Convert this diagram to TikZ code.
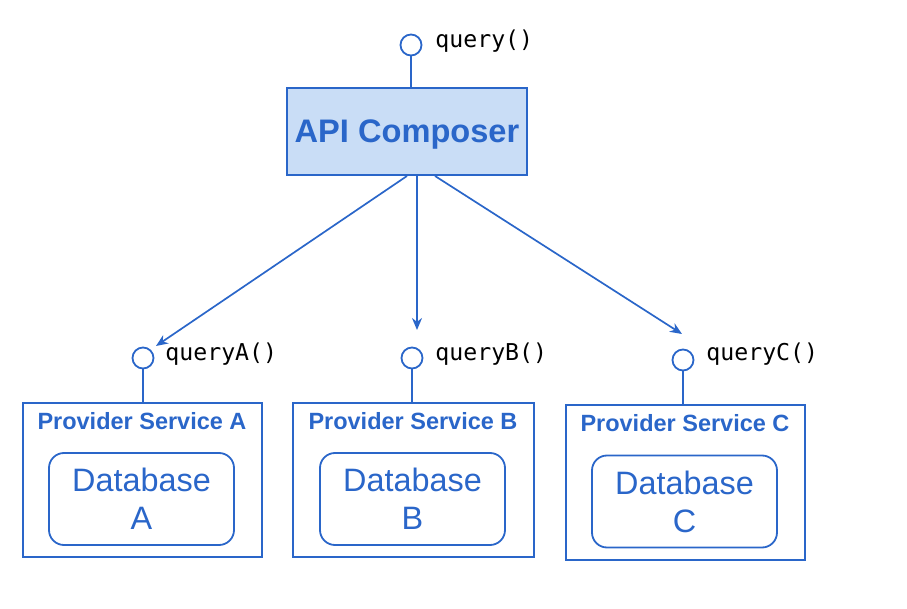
\documentclass[tikz,border=0pt]{standalone}
\usepackage{fontspec}
\setmainfont{Liberation Sans}
\newfontfamily\codefont{DejaVu Sans Mono}
\usetikzlibrary{arrows.meta,positioning}
\definecolor{lineblue}{HTML}{2A66C9}
\definecolor{fillblue}{HTML}{C9DDF6}

\begin{document}
\begin{tikzpicture}[
        x=0.5pt, y=-0.5pt,
        box/.style={draw=lineblue, line width=1pt, rectangle, inner sep=0pt},
        dbbox/.style={draw=lineblue, line width=0.9pt, rectangle, rounded corners=7.5pt,
            minimum width=92.5pt, minimum height=46pt, align=center, text=lineblue,
            font=\fontsize{16.2}{19}\selectfont, inner sep=0pt},
        port/.style={draw=lineblue, line width=0.9pt, circle, fill=white,
            minimum size=10.5pt, inner sep=0pt},
        portlabel/.style={anchor=west, inner sep=0pt, font=\codefont\fontsize{11.6}{13}\selectfont},
        svclabel/.style={inner sep=0pt, text=lineblue, font=\bfseries\fontsize{11.75}{13}\selectfont},
        call/.style={-{Stealth[length=6pt,width=5pt]}, draw=lineblue, line width=0.85pt}
    ]
        \useasboundingbox (0,0) rectangle (907,609);

        % composer
        \node (composer) [box, fill=fillblue, minimum width=120pt, minimum height=43.5pt,
            text depth=0pt, text=lineblue, font=\bfseries\fontsize{16.3}{18}\selectfont] at (407,131.5) {API Composer};
        \node (top) [port] at (411,45) {};
        \node (toplbl) [portlabel] at (435,41) {query()};
        \draw[lineblue, line width=1pt] (top) -- (top |- composer.north);

        % provider services
        \node (svcA) [box, minimum width=119.5pt, minimum height=77pt] at (142.5,480) {};
        \node (svcB) [box, minimum width=120.5pt, minimum height=77pt] at (413.5,480) {};
        \node (svcC) [box, minimum width=119.5pt, minimum height=77.5pt] at (685.5,482.5) {};

        \node (nameA) [svclabel] at (142,421) {Provider Service A};
        \node (nameB) [svclabel] at (413,421) {Provider Service B};
        \node (nameC) [svclabel] at (685,423) {Provider Service C};

        \node (dbA) [dbbox] at (141.5,499) {Database\\A};
        \node (dbB) [dbbox] at (412.5,499) {Database\\B};
        \node (dbC) [dbbox] at (684.5,501.5) {Database\\C};

        \node (portA) [port] at (143,358) {};
        \node (portB) [port] at (412,358) {};
        \node (portC) [port] at (683,360) {};

        \node (lblA) [portlabel] at (165,354) {queryA()};
        \node (lblB) [portlabel] at (435,354) {queryB()};
        \node (lblC) [portlabel] at (706,354) {queryC()};

        \draw[lineblue, line width=1pt] (portA) -- (portA |- svcA.north);
        \draw[lineblue, line width=1pt] (portB) -- (portB |- svcB.north);
        \draw[lineblue, line width=1pt] (portC) -- (portC |- svcC.north);

        % calls
        \coordinate (tipA) at (156,346);
        \coordinate (tipB) at (417,330);
        \coordinate (tipC) at (682,334);
        \draw[call] (composer.south) -- (tipA);
        \draw[call] ([xshift=5pt]composer.south) -- (tipB);
        \draw[call] ([xshift=14pt]composer.south) -- (tipC);
    \end{tikzpicture}
\end{document}
